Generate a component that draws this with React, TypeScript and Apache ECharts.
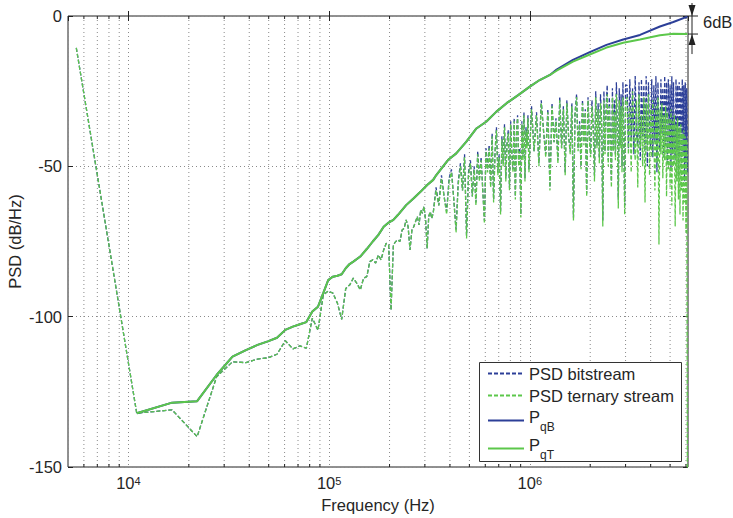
import React, { useEffect, useRef } from 'react';
import * as echarts from 'echarts';

const FONT = '"Liberation Sans", Arial, Helvetica, sans-serif';
const TEXT = '#262626';
const BLUE = '#2C3F98';
const GREEN = '#5CC74B';
const GRIDC = '#8a8a8a';

const xMinHz = 5000;
const xMaxHz = 6.14e6;
const yMin = -150;
const yMax = 0;
const yStep = 50;

// annotation levels (dB)
const gapTopDb = 0;
const gapBottomDb = -6;
const gapLabel = '6dB';

const legendNames = ['PSD bitstream', 'PSD ternary stream', 'P_qB', 'P_qT'];

const minorTickHz = [
  6e3, 7e3, 8e3, 9e3,
  2e4, 3e4, 4e4, 5e4, 6e4, 7e4, 8e4, 9e4,
  2e5, 3e5, 4e5, 5e5, 6e5, 7e5, 8e5, 9e5,
  2e6, 3e6, 4e6, 5e6, 6e6,
];

// low-frequency PSD bins (kHz) shared by both streams
const psdLowKHz = [
  5.5, 11, 16.5, 22, 27.5, 33, 38.5, 44, 49.5, 55, 60.5, 66, 71.5, 77, 82.5, 88, 93.5, 99, 104.5, 110,
  115.5, 121, 126.5, 132, 137.5, 143, 148.5, 154, 159.5, 165, 170.5, 176, 181.5, 187, 192.5, 198, 203.5, 209, 214.5, 220,
  225.5, 231, 236.5, 242, 247.5, 253, 258.5, 264, 269.5, 275, 280.5, 286, 291.5, 297, 302.5, 308, 313.5, 319, 324.5, 330,
];
const psdLowDb = [
  -10.6, -132.1, -131.0, -139.9, -120.0, -115.0, -115.3, -114.1, -113.7, -112.5, -108.0, -110.7, -109.7, -110.5, -100.5, -104.5, -92.8, -91.5, -92.2, -95.5,
  -100.9, -90.6, -89.5, -87.2, -88.9, -91.1, -87.2, -86.7, -81.7, -81.1, -82.2, -79.5, -81.1, -77.8, -75.6, -76.2, -97.8, -76.2, -75.0, -74.5,
  -75.0, -71.2, -70.6, -67.8, -70.1, -77.8, -71.2, -70.1, -68.4, -66.7, -69.5, -64.5, -65.6, -63.4, -67.8, -77.3, -66.7, -65.1, -67.3, -65.6,
];

// high-frequency (noisy) part, kHz
const noiseKHz = [
  341, 352, 363, 374, 385, 396, 407, 418, 429, 440, 451, 462, 473, 484, 495, 506, 517, 528, 539, 550,
  561, 572, 583, 594, 605, 616, 627, 638, 649, 660, 671, 682, 693, 704, 715, 726, 737, 748, 759, 770,
  781, 792, 803, 814, 825, 836, 847, 858, 869, 880, 891, 902, 913, 924, 935, 946, 957, 968, 979, 990,
  1020, 1050, 1080, 1110, 1140, 1170, 1200, 1230, 1260, 1290, 1320, 1350, 1380, 1410, 1440, 1470, 1500, 1530, 1560, 1590,
  1620, 1650, 1680, 1710, 1740, 1770, 1800, 1830, 1860, 1890, 1920, 1950, 1980, 2010, 2040, 2070, 2100, 2130, 2160, 2190,
  2220, 2250, 2280, 2310, 2340, 2370, 2400, 2430, 2460, 2490, 2520, 2550, 2580, 2610, 2640, 2670, 2700, 2730, 2760, 2790,
  2820, 2850, 2880, 2910, 2940, 2970, 3000,
  3050, 3100, 3150, 3200, 3250, 3300, 3350, 3400, 3450, 3500, 3550, 3600, 3650, 3700, 3750, 3800, 3850, 3900, 3950, 4000,
  4050, 4100, 4150, 4200, 4250, 4300, 4350, 4400, 4450, 4500, 4550, 4600, 4650, 4700, 4750, 4800, 4850, 4900, 4950, 5000,
  5050, 5100, 5150, 5200, 5250, 5300, 5350, 5400, 5450, 5500, 5550, 5600, 5650, 5700, 5750, 5800, 5850, 5900, 5950, 6000,
  6050, 6100,
];
const bitNoiseDb = [
  -57, -63, -53, -60, -65, -54, -51, -61, -71, -55, -49, -58, -46, -73, -52, -48, -60, -50, -62, -45,
  -54, -47, -58, -68, -44, -51, -43, -56, -39, -61, -45, -37, -52, -46, -65, -40, -49, -36, -54, -42,
  -38, -57, -35, -46, -51, -34, -60, -39, -33, -49, -44, -66, -35, -47, -32, -54, -37, -43, -33, -51,
  -30, -45, -32, -49, -28, -38, -46, -31, -57, -29, -42, -34, -48, -27, -44, -30, -52, -28, -40, -45,
  -29, -67, -32, -26, -44, -35, -50, -28, -42, -31, -59, -27, -40, -46, -28, -37, -53, -25, -43, -29,
  -47, -26, -35, -68, -25, -45, -30, -23, -48, -27, -41, -55, -24, -44, -28, -46, -22, -37, -61, -24,
  -43, -26, -50, -22, -41, -63, -23,
  -23, -44, -21, -41, -24, -46, -20, -39, -43, -22, -48, -21, -40, -23, -45, -20, -50, -22, -38, -44,
  -21, -47, -23, -42, -20, -52, -22, -41, -45, -21, -39, -24, -47, -20, -43, -22, -49, -21, -44, -23,
  -51, -20, -46, -22, -42, -48, -21, -45, -23, -53, -22, -47, -24, -50, -21, -46, -23, -55, -22, -49,
  -24, -52,
];
const terNoiseDb = [
  -58, -63, -54, -60, -66, -55, -52, -61, -72, -56, -50, -58, -47, -74, -53, -49, -60, -51, -63, -46,
  -55, -48, -58, -69, -45, -52, -44, -57, -40, -62, -46, -38, -53, -47, -66, -41, -50, -37, -55, -43,
  -39, -58, -36, -47, -52, -35, -61, -40, -34, -50, -45, -67, -36, -48, -33, -55, -38, -44, -34, -52,
  -31, -45, -33, -50, -29, -38, -47, -32, -58, -30, -42, -35, -49, -28, -44, -31, -53, -29, -40, -46,
  -30, -68, -33, -27, -45, -36, -51, -29, -43, -32, -60, -28, -41, -47, -30, -38, -55, -27, -44, -31,
  -49, -29, -36, -70, -28, -46, -33, -26, -50, -30, -42, -57, -27, -45, -32, -48, -26, -39, -64, -28,
  -44, -30, -52, -27, -43, -66, -29,
  -27, -46, -30, -52, -25, -40, -48, -28, -57, -26, -44, -33, -50, -27, -62, -29, -45, -26, -53, -31,
  -47, -28, -41, -58, -30, -49, -27, -76, -31, -46, -29, -54, -33, -48, -30, -60, -32, -51, -34, -57,
  -31, -63, -35, -50, -33, -70, -36, -55, -34, -61, -37, -66, -36, -58, -39, -68, -38, -62, -40, -72,
  -41, -160,
];

// quantization noise power curves
const pqKHz = [
  11, 16.5, 22, 27.5, 33, 38.5, 44, 49.5, 55, 60.5, 66, 71.5, 77, 82.5, 88, 93.5, 99, 104.5, 110, 115.5,
  121, 126.5, 132, 143, 154, 165, 176, 187, 198, 209, 220, 242, 264, 286, 308, 330, 342, 391, 430, 483,
  542, 608, 682, 766, 875, 1000, 1120, 1260, 1360, 1640, 1990, 2410, 2920, 3540, 4450, 5190, 6100,
];
const pqBDb = [
  -132.1, -128.6, -128.1, -119.4, -113.3, -111.1, -109.4, -108.2, -107.0, -104.4, -103.3, -102.5, -101.8, -98.3, -96.7, -92.2, -87.8, -86.7, -86.4, -85.9,
  -83.9, -82.5, -81.7, -80.0, -77.5, -75.0, -72.8, -70.1, -68.7, -67.8, -66.2, -62.9, -60.6, -58.4, -56.2, -54.5, -52.9, -47.9, -45.7, -41.8,
  -37.4, -35.1, -31.8, -29.0, -26.3, -23.5, -21.3, -19.6, -17.8, -14.6, -12.0, -9.6, -7.8, -6.3, -3.5, -2.0, -0.2,
];
const pqTDb = [
  -132.1, -128.6, -128.1, -119.4, -113.3, -111.1, -109.4, -108.2, -107.0, -104.4, -103.3, -102.5, -101.8, -98.3, -96.7, -92.2, -87.8, -86.7, -86.4, -85.9,
  -83.9, -82.5, -81.7, -80.0, -77.5, -75.0, -72.8, -70.1, -68.7, -67.8, -66.2, -62.9, -60.6, -58.4, -56.2, -54.5, -52.9, -47.9, -45.7, -41.8,
  -37.4, -35.1, -31.8, -29.0, -26.3, -23.5, -21.3, -19.6, -18.2, -15.2, -12.8, -10.5, -8.9, -7.8, -6.4, -5.9, -6.0,
];

const pairs = (khz: number[], db: number[]) => khz.map((k, i) => [k * 1000, db[i]]);

export default function App() {
  const ref = useRef<HTMLDivElement>(null);
  useEffect(() => {
    if (!ref.current) return;
    const chart = echarts.init(ref.current, null, { renderer: 'svg' });
    const bitData = pairs(psdLowKHz.concat(noiseKHz), psdLowDb.concat(bitNoiseDb));
    const terData = pairs(psdLowKHz.concat(noiseKHz), psdLowDb.concat(terNoiseDb));
    const dotted = { color: GRIDC, width: 1, type: [1, 3] as any };
    const labelFont = { fontFamily: FONT, color: TEXT };
    const option: any = {
      animation: false,
      backgroundColor: '#fff',
      textStyle: { fontFamily: FONT },
      grid: {
        left: 68, top: 16, right: 45, bottom: 51,
        show: true, borderColor: '#222', borderWidth: 1, backgroundColor: 'transparent',
        outerBoundsMode: 'none', containLabel: false,
      },
      legend: {
        data: legendNames,
        orient: 'vertical',
        left: 487, top: 364,
        padding: 0,
        itemWidth: 36, itemHeight: 12, itemGap: 3,
        selectedMode: false,
        z: 20,
        itemStyle: { opacity: 0 },
        formatter: (name: string) => name.startsWith('P_') ? `{m|P}{s|${name.slice(2)}}{h| }` : name,
        textStyle: {
          ...labelFont, fontSize: 16.5, lineHeight: 19,
          rich: {
            m: { ...labelFont, fontSize: 16.5, lineHeight: 16, verticalAlign: 'top' },
            s: { ...labelFont, fontSize: 12, lineHeight: 12, verticalAlign: 'bottom' },
            h: { fontSize: 1, lineHeight: 25 },
          },
        },
      },
      xAxis: [
        {
          type: 'log', logBase: 10, min: xMinHz, max: xMaxHz,
          name: 'Frequency (Hz)', nameLocation: 'middle', nameGap: 29, nameMoveOverlap: false,
          nameTextStyle: { ...labelFont, fontSize: 16.5 },
          axisLine: { show: false },
          axisTick: { show: true, inside: true, length: 5, lineStyle: { color: '#222' } },
          axisLabel: {
            showMinLabel: false, showMaxLabel: false, margin: 8,
            formatter: (v: number) => `{b|10}{e|${Math.round(Math.log10(v))}}`,
            rich: {
              b: { ...labelFont, fontSize: 16.5, lineHeight: 16, verticalAlign: 'bottom', padding: [6, 0, 0, 0] },
              e: { ...labelFont, fontSize: 11, lineHeight: 11, verticalAlign: 'top' },
            },
          },
          splitLine: { show: true, lineStyle: dotted },
        },
        {
          type: 'log', logBase: 10, min: xMinHz, max: xMaxHz, position: 'top',
          axisLine: { show: false },
          axisTick: { show: true, inside: true, length: 5, lineStyle: { color: '#222' } },
          axisLabel: { show: false },
          splitLine: { show: false },
        },
      ],
      yAxis: [
        {
          type: 'value', min: yMin, max: yMax, interval: yStep,
          name: 'PSD (dB/Hz)', nameLocation: 'middle', nameGap: 45, nameMoveOverlap: false,
          nameTextStyle: { ...labelFont, fontSize: 16.5 },
          axisLine: { show: false },
          axisTick: { show: true, inside: true, length: 5, lineStyle: { color: '#222' } },
          axisLabel: { ...labelFont, fontSize: 16.5, margin: 6 },
          splitLine: { show: true, lineStyle: dotted },
        },
        {
          type: 'value', min: yMin, max: yMax, interval: yStep, position: 'right',
          axisLine: { show: false },
          axisTick: { show: true, inside: true, length: 5, lineStyle: { color: '#222' } },
          axisLabel: { show: false },
          splitLine: { show: false },
        },
      ],
      series: [
        {
          type: 'custom', name: 'minorGrid', silent: true, z: 1,
          xAxisIndex: 0, yAxisIndex: 0,
          data: minorTickHz.map((f) => [f, yMin]),
          encode: { x: 0, y: 1 },
          renderItem: (params: any, api: any) => {
            const x = api.coord([api.value(0), yMin])[0];
            const cs = params.coordSys;
            const top = cs.y;
            const bottom = cs.y + cs.height;
            return {
              type: 'group',
              children: [
                { type: 'line', shape: { x1: x, y1: top, x2: x, y2: bottom }, style: { stroke: GRIDC, lineWidth: 1, lineDash: [1, 3] } },
                { type: 'line', shape: { x1: x, y1: bottom, x2: x, y2: bottom - 3 }, style: { stroke: '#222', lineWidth: 1 } },
                { type: 'line', shape: { x1: x, y1: top, x2: x, y2: top + 3 }, style: { stroke: '#222', lineWidth: 1 } },
              ],
            };
          },
        },
        {
          name: 'PSD bitstream', type: 'line', data: bitData, symbol: 'none', z: 2,
          lineStyle: { color: BLUE, width: 1.3, type: [4, 2] }, itemStyle: { color: BLUE },
        },
        {
          name: 'PSD ternary stream', type: 'line', data: terData, symbol: 'none', z: 3,
          lineStyle: { color: GREEN, width: 1.3, type: [4, 2] }, itemStyle: { color: GREEN },
        },
        {
          name: 'P_qB', type: 'line', data: pairs(pqKHz, pqBDb), symbol: 'none', z: 4,
          lineStyle: { color: BLUE, width: 2 }, itemStyle: { color: BLUE },
        },
        {
          name: 'P_qT', type: 'line', data: pairs(pqKHz, pqTDb), symbol: 'none', z: 5,
          lineStyle: { color: GREEN, width: 2 }, itemStyle: { color: GREEN },
        },
      ],
    };
    chart.setOption(option);

    const toPx = (v: number) => chart.convertToPixel({ xAxisIndex: 0, yAxisIndex: 0 }, [xMaxHz, v]) as number[];
    const [xr, yTop] = toPx(gapTopDb);
    const yBot = toPx(gapBottomDb)[1];
    const ax = xr + 4;
    const ink = '#222';
    chart.setOption({
      graphic: [
        { type: 'rect', z: 10, silent: true, shape: { x: 479.5, y: 362.5, width: 202, height: 99 }, style: { fill: '#fff', stroke: '#333', lineWidth: 1 } },
        { type: 'line', z: 10, silent: true, shape: { x1: ax, y1: yTop - 13, x2: ax, y2: yBot + 20 }, style: { stroke: ink, lineWidth: 1 } },
        { type: 'line', z: 10, silent: true, shape: { x1: xr, y1: yTop, x2: xr + 10, y2: yTop }, style: { stroke: ink, lineWidth: 1 } },
        { type: 'line', z: 10, silent: true, shape: { x1: xr, y1: yBot, x2: xr + 10, y2: yBot }, style: { stroke: ink, lineWidth: 1 } },
        { type: 'polygon', z: 10, silent: true, shape: { points: [[ax, yTop], [ax - 3.5, yTop - 11], [ax + 3.5, yTop - 11]] }, style: { fill: ink } },
        { type: 'polygon', z: 10, silent: true, shape: { points: [[ax, yBot], [ax - 3.5, yBot + 11], [ax + 3.5, yBot + 11]] }, style: { fill: ink } },
        { type: 'text', z: 10, silent: true, x: xr + 15, y: yTop + 6, style: { text: gapLabel, fontFamily: FONT, fontSize: 16.5, fill: TEXT, verticalAlign: 'middle', align: 'left' } },
      ],
    });
    return () => chart.dispose();
  }, []);
  return <div ref={ref} style={{ position: 'fixed', left: 0, top: 0, width: 733, height: 518 }} />;
}
